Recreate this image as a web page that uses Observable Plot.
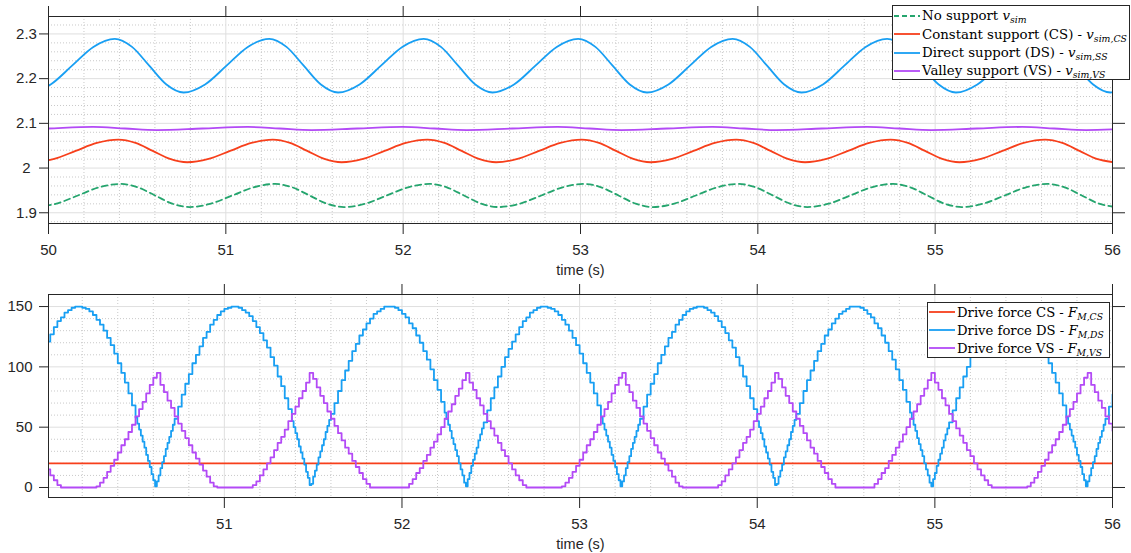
<!DOCTYPE html>
<html>
<head>
<meta charset="utf-8">
<script src="https://cdn.jsdelivr.net/npm/d3@7"></script>
<script src="https://cdn.jsdelivr.net/npm/@observablehq/plot@0.6"></script>
<style>
  html, body { margin: 0; padding: 0; background: #fff; }
  #wrap { position: relative; width: 1131px; height: 553px; overflow: hidden; }
  #wrap svg { display: block; }
  .lg { position: absolute; box-sizing: border-box; border: 1px solid #262626; background: #fff;
        font-family: 'DejaVu Serif', 'Liberation Serif', serif; color: #000; }
  .lg .row { position: absolute; left: 0; white-space: nowrap; display: flex; align-items: center; }
  .lg .row svg { display: inline-block; flex: none; }
  .lg sub { font-size: 0.7em; vertical-align: -0.3em; line-height: 0; }
</style>
</head>
<body>
<div id="wrap">
  <div id="topPanel"></div>
  <div id="bottomPanel"></div>
</div>
<script>
// ---------------- DATA ----------------
// Top panel: simulated speed (values at troughs / quarter points / peaks)
const noSupportT = [49.924,50.045,50.166,50.286,50.407,50.504,50.601,50.698,
  50.795,50.916,51.037,51.157,51.278,51.375,51.472,51.569,
  51.666,51.787,51.908,52.028,52.149,52.246,52.343,52.440,
  52.537,52.658,52.779,52.899,53.020,53.117,53.214,53.311,
  53.408,53.529,53.650,53.770,53.891,53.988,54.085,54.182,
  54.279,54.400,54.521,54.641,54.762,54.859,54.956,55.053,
  55.150,55.271,55.392,55.512,55.633,55.730,55.827,55.924,56.021];
const noSupportV = [1.9128,1.9204,1.9387,1.9569,1.9645,1.9569,1.9387,1.9204,
  1.9128,1.9204,1.9387,1.9569,1.9645,1.9569,1.9387,1.9204,
  1.9128,1.9204,1.9387,1.9569,1.9645,1.9569,1.9387,1.9204,
  1.9128,1.9204,1.9387,1.9569,1.9645,1.9569,1.9387,1.9204,
  1.9128,1.9204,1.9387,1.9569,1.9645,1.9569,1.9387,1.9204,
  1.9128,1.9204,1.9387,1.9569,1.9645,1.9569,1.9387,1.9204,
  1.9128,1.9204,1.9387,1.9569,1.9645,1.9569,1.9387,1.9204,1.9128];

const constT = [49.911,50.032,50.153,50.273,50.394,50.491,50.588,50.685,
  50.782,50.903,51.024,51.144,51.265,51.362,51.459,51.556,
  51.653,51.774,51.895,52.015,52.136,52.233,52.330,52.427,
  52.524,52.645,52.766,52.886,53.007,53.104,53.201,53.298,
  53.395,53.516,53.637,53.757,53.878,53.975,54.072,54.169,
  54.266,54.387,54.508,54.628,54.749,54.846,54.943,55.040,
  55.137,55.258,55.379,55.499,55.620,55.717,55.814,55.911,56.008];
const constV = [2.013,2.0204,2.0383,2.0561,2.0635,2.0561,2.0383,2.0204,
  2.013,2.0204,2.0383,2.0561,2.0635,2.0561,2.0383,2.0204,
  2.013,2.0204,2.0383,2.0561,2.0635,2.0561,2.0383,2.0204,
  2.013,2.0204,2.0383,2.0561,2.0635,2.0561,2.0383,2.0204,
  2.013,2.0204,2.0383,2.0561,2.0635,2.0561,2.0383,2.0204,
  2.013,2.0204,2.0383,2.0561,2.0635,2.0561,2.0383,2.0204,
  2.013,2.0204,2.0383,2.0561,2.0635,2.0561,2.0383,2.0204,2.013];

const directT = [49.891,50.012,50.133,50.253,50.374,50.471,50.568,50.665,
  50.762,50.883,51.004,51.124,51.245,51.342,51.439,51.536,
  51.633,51.754,51.875,51.995,52.116,52.213,52.310,52.407,
  52.504,52.625,52.746,52.866,52.987,53.084,53.181,53.278,
  53.375,53.496,53.617,53.737,53.858,53.955,54.052,54.149,
  54.246,54.367,54.488,54.608,54.729,54.826,54.923,55.020,
  55.117,55.238,55.359,55.479,55.600,55.697,55.794,55.891,55.988,56.109];
const directV = [2.169,2.187,2.229,2.271,2.289,2.271,2.229,2.187,
  2.169,2.187,2.229,2.271,2.289,2.271,2.229,2.187,
  2.169,2.187,2.229,2.271,2.289,2.271,2.229,2.187,
  2.169,2.187,2.229,2.271,2.289,2.271,2.229,2.187,
  2.169,2.187,2.229,2.271,2.289,2.271,2.229,2.187,
  2.169,2.187,2.229,2.271,2.289,2.271,2.229,2.187,
  2.169,2.187,2.229,2.271,2.289,2.271,2.229,2.187,2.169,2.187];

const valleyT = [49.738,49.995,50.251,50.431,
  50.611,50.868,51.124,51.304,
  51.484,51.741,51.997,52.177,
  52.358,52.615,52.871,53.051,
  53.231,53.488,53.744,53.924,
  54.104,54.361,54.617,54.797,
  54.978,55.235,55.491,55.671,
  55.851,56.108];
const valleyV = [2.085,2.0885,2.092,2.0885,
  2.085,2.0885,2.092,2.0885,
  2.085,2.0885,2.092,2.0885,
  2.085,2.0885,2.092,2.0885,
  2.085,2.0885,2.092,2.0885,
  2.085,2.0885,2.092,2.0885,
  2.085,2.0885,2.092,2.0885,
  2.085,2.0885];

// Bottom panel: drive force DS, held values on a 0.01 s grid from t = 50.00 s (601 samples)
const forceDST0 = 50, forceDSDt = 0.01;
const forceDS = [
  121,121,127,127,133,133,138,138,141,141,145,145,147,147,149,149,150,150,150,150,
  149,149,148,148,146,146,143,143,139,139,135,135,130,130,124,124,118,118,111,111,
  103,103,95,95,87,87,78,78,68,68,
  58,
  53,48,43,38,33,27,22,17,11,6,1,5,10,16,21,26,32,37,42,47,52,
  57,57,67,67,77,77,86,86,94,94,103,103,110,110,117,117,124,124,129,129,
  135,135,139,139,143,143,146,146,148,148,149,149,150,150,150,150,149,149,147,147,
  145,145,142,142,138,138,133,133,128,128,122,122,116,116,108,108,101,101,92,92,
  84,84,74,74,65,65,
  55,50,45,40,34,29,24,19,13,8,2,3,9,14,19,25,30,35,40,46,51,
  56,
  61,61,70,70,80,80,89,89,97,97,105,105,113,113,119,119,126,126,131,131,
  136,136,140,140,144,144,146,146,148,148,150,150,150,150,150,150,149,149,147,147,
  144,144,141,141,136,136,132,132,126,126,120,120,113,113,106,106,98,98,89,89,
  81,81,71,71,
  62,
  57,52,47,41,36,31,26,20,15,10,4,1,7,12,18,23,28,33,39,44,49,
  54,54,64,64,74,74,83,83,92,92,100,100,108,108,115,115,
  121,121,127,127,133,133,138,138,141,141,145,145,147,147,149,149,150,150,150,150,
  149,149,148,148,146,146,143,143,139,139,135,135,130,130,124,124,118,118,111,111,
  103,103,95,95,87,87,78,78,68,68,
  58,
  53,48,43,38,33,27,22,17,11,6,1,5,10,16,21,26,32,37,42,47,52,
  57,57,67,67,77,77,86,86,94,94,103,103,110,110,117,117,124,124,129,129,
  135,135,139,139,143,143,146,146,148,148,149,149,150,150,150,150,149,149,147,147,
  145,145,142,142,138,138,133,133,128,128,122,122,116,116,108,108,101,101,92,92,
  84,84,74,74,65,65,
  55,50,45,40,34,29,24,19,13,8,2,3,9,14,19,25,30,35,40,46,51,
  56,
  61,61,70,70,80,80,89,89,97,97,105,105,113,113,119,119,126,126,131,131,
  136,136,140,140,144,144,146,146,148,148,150,150,150,150,150,150,149,149,147,147,
  144,144,141,141,136,136,132,132,126,126,120,120,113,113,106,106,98,98,89,89,
  81,81,71,71,
  62,
  57,52,47,41,36,31,26,20,15,10,4,1,7,12,18,23,28,33,39,44,49,
  54,54,64,64,74,74,83,83,92,92,100,100,108,108,115,115,
  121,121,127,127,133,133,138,138,141,141,145,145,147,147,149,149,150,150,150,150,
  149,149,148,148,146,146,143,143,139,139,135,135,130,130,124,124,118,118,111,111,
  103,103,95,95,87,87,78,78,68,68,
  58,
  53,48,43,38,33,27,22,17,11,6,1,5,10,16,21,26,32,37,42,47,52,
  57,57,67,67,77];
// Drive force VS, held values on a 0.02 s grid from t = 50.00 s (301 samples)
const forceVST0 = 50, forceVSDt = 0.02;
const forceVS = [
  15,10,6,2,0,0,0,0,0,0,0,0,0,0,1,4,8,13,18,23,
  29,35,40,46,52,59,65,71,78,85,91,95,85,79,72,66,59,53,47,41,
  35,29,24,19,14,9,4,1,0,0,0,0,0,0,0,0,0,0,2,5,
  10,15,20,25,31,37,42,48,55,61,67,74,80,87,95,90,83,76,70,63,
  57,51,45,39,33,28,22,17,12,7,3,0,0,0,0,0,0,0,0,0,
  0,0,3,7,12,16,22,27,33,38,44,50,57,63,69,76,82,89,95,87,
  81,74,68,61,55,49,43,37,31,26,20,
  15,10,6,2,0,0,0,0,0,0,0,0,0,0,1,4,8,13,18,23,
  29,35,40,46,52,59,65,71,78,85,91,95,85,79,72,66,59,53,47,41,
  35,29,24,19,14,9,4,1,0,0,0,0,0,0,0,0,0,0,2,5,
  10,15,20,25,31,37,42,48,55,61,67,74,80,87,95,90,83,76,70,63,
  57,51,45,39,33,28,22,17,12,7,3,0,0,0,0,0,0,0,0,0,
  0,0,3,7,12,16,22,27,33,38,44,50,57,63,69,76,82,89,95,87,
  81,74,68,61,55,49,43,37,31,26,20,
  15,10,6,2,0,0,0,0,0,0,0,0,0,0,1,4,8,13,18,23,
  29,35,40,46,52,59,65,71,78,85,91,95,85,79,72,66,59,53,47];
const forceCST = [50, 56];
const forceCS = [20, 20];

// Tick labels
const topXTicks = [50, 51, 52, 53, 54, 55, 56];
const topYTicks = [1.9, 2, 2.1, 2.2, 2.3];
const botXTicks = [51, 52, 53, 54, 55, 56];
const botYTicks = [0, 50, 100, 150];

// ---------------- STYLE ----------------
const C = { green: "#25a56e", red: "#f73f1b", blue: "#189ff3", purple: "#b34af6" };
const axisColor = "#262626";
const gridMajor = "#dfdfdf";
const gridMinor = "#c9c9c9";
const font = "'Liberation Sans', Arial, Helvetica, sans-serif";

const rows = (T, V) => T.map((t, i) => ({t, v: V[i]}));
const gridRows = (t0, dt, V) => V.map((v, i) => ({t: t0 + i * dt, v}));
const near = (a, b) => Math.abs(a - b) < 1e-9;
const minorTicks = (lo, hi, step, majors) =>
  d3.range(Math.ceil(lo / step - 1e-9), Math.floor(hi / step + 1e-9) + 1)
    .map(k => +(k * step).toFixed(4))
    .filter(v => !majors.some(m => near(m, v)));

function gridMarks(xd, yd, xMaj, yMaj, xStep, yStep) {
  return [
    Plot.ruleX(minorTicks(xd[0], xd[1], xStep, xMaj), {stroke: gridMinor, strokeDasharray: "1,2", strokeWidth: 1}),
    Plot.ruleY(minorTicks(yd[0], yd[1], yStep, yMaj), {stroke: gridMinor, strokeDasharray: "1,2", strokeWidth: 1}),
    Plot.ruleX(xMaj.filter(v => v > xd[0] && v < xd[1]), {stroke: gridMajor, strokeWidth: 1}),
    Plot.ruleY(yMaj, {stroke: gridMajor, strokeWidth: 1})
  ];
}
function axisMarks(xTicks, yTicks, yFmt, yLeftOpts) {
  return [
    Plot.frame({stroke: axisColor, strokeWidth: 1}),
    Plot.axisX({anchor: "bottom", ticks: xTicks, tickSize: 11, tickPadding: 10, tickFormat: d => String(d), label: null, stroke: axisColor, fontSize: 15}),
    Plot.axisX({anchor: "top", ticks: xTicks, tickSize: 11, tickFormat: () => "", label: null, stroke: axisColor}),
    Plot.axisY({anchor: "left", ticks: yTicks, tickSize: 9, tickFormat: yFmt, label: null, stroke: axisColor, fontSize: 15, ...yLeftOpts}),
    Plot.axisY({anchor: "right", ticks: yTicks, tickSize: 12, tickFormat: () => "", label: null, stroke: axisColor})
  ];
}

// ---------------- TOP PANEL ----------------
const topXD = [50, 56], topYD = [1.876, 2.339];
const topPlot = Plot.plot({
  width: 1131, height: 277,
  marginTop: 16, marginBottom: 54, marginLeft: 48, marginRight: 19,
  style: {fontFamily: font, fontSize: "15px", color: axisColor, background: "transparent", overflow: "visible"},
  x: {domain: topXD, axis: null},
  y: {domain: topYD, axis: null},
  marks: [
    ...gridMarks(topXD, topYD, topXTicks, topYTicks, 0.2, 0.02),
    Plot.line(rows(noSupportT, noSupportV), {x: "t", y: "v", stroke: C.green, strokeWidth: 1.8, strokeDasharray: "6,4", curve: "monotone-x", clip: true}),
    Plot.line(rows(constT, constV), {x: "t", y: "v", stroke: C.red, strokeWidth: 1.8, curve: "monotone-x", clip: true}),
    Plot.line(rows(directT, directV), {x: "t", y: "v", stroke: C.blue, strokeWidth: 1.8, curve: "monotone-x", clip: true}),
    Plot.line(rows(valleyT, valleyV), {x: "t", y: "v", stroke: C.purple, strokeWidth: 1.8, curve: "monotone-x", clip: true}),
    ...axisMarks(topXTicks, topYTicks, d => String(+d.toFixed(1)), {textAnchor: "middle", tickPadding: 13}),
    Plot.text(["time (s)"], {text: d => d, frameAnchor: "bottom", dy: 47, lineAnchor: "middle", fill: axisColor, fontSize: 14.5})
  ]
});
document.getElementById("topPanel").appendChild(topPlot);

// ---------------- BOTTOM PANEL ----------------
const botXD = [50.01, 56], botYD = [-8.3, 160];
const botPlot = Plot.plot({
  width: 1131, height: 276,
  marginTop: 17, marginBottom: 56, marginLeft: 48, marginRight: 19,
  style: {fontFamily: font, fontSize: "15px", color: axisColor, background: "transparent", overflow: "visible"},
  x: {domain: botXD, axis: null},
  y: {domain: botYD, axis: null},
  marks: [
    ...gridMarks(botXD, botYD, botXTicks, botYTicks, 0.2, 10),
    Plot.line(rows(forceCST, forceCS), {x: "t", y: "v", stroke: C.red, strokeWidth: 1.8, clip: true}),
    Plot.line(gridRows(forceDST0, forceDSDt, forceDS), {x: "t", y: "v", stroke: C.blue, strokeWidth: 1.8, curve: "step-after", clip: true}),
    Plot.line(gridRows(forceVST0, forceVSDt, forceVS), {x: "t", y: "v", stroke: C.purple, strokeWidth: 1.8, curve: "step-after", clip: true}),
    ...axisMarks(botXTicks, botYTicks, d => String(d), {tickPadding: 7}),
    Plot.text(["time (s)"], {text: d => d, frameAnchor: "bottom", dy: 47, lineAnchor: "middle", fill: axisColor, fontSize: 14.5})
  ]
});
document.getElementById("bottomPanel").appendChild(botPlot);

// ---------------- LEGENDS ----------------
function legend({left, top, width, height, fontSize, rowsDef, lineLen, rowH, firstY, textWidth}) {
  const box = document.createElement("div");
  box.className = "lg";
  Object.assign(box.style, {left: left + "px", top: top + "px", width: width + "px", height: height + "px", fontSize: fontSize + "px"});
  const spans = [];
  rowsDef.forEach((r, i) => {
    const row = document.createElement("div");
    row.className = "row";
    row.style.top = (firstY + i * rowH - rowH / 2) + "px";
    row.style.height = rowH + "px";
    const dash = r.dash ? `stroke-dasharray="5,3"` : "";
    row.innerHTML = `<svg width="${lineLen + 2}" height="10"><line x1="1" y1="5" x2="${lineLen}" y2="5" stroke="${r.color}" stroke-width="1.8" ${dash}/></svg><span>${r.html}</span>`;
    box.appendChild(row);
    spans.push(row.querySelector("span"));
  });
  document.getElementById("wrap").appendChild(box);
  // fit the text width to the width measured on the reference
  const w = Math.max(...spans.map(s => s.getBoundingClientRect().width));
  if (w > 0) box.style.fontSize = (fontSize * textWidth / w) + "px";
}
legend({
  left: 892, top: 5, width: 238, height: 75, fontSize: 14, lineLen: 27, rowH: 18.3, firstY: 10, textWidth: 205,
  rowsDef: [
    {color: C.green, dash: true, html: "No support <i>v</i><sub><i>sim</i></sub>"},
    {color: C.red, html: "Constant support (CS) - <i>v</i><sub><i>sim,CS</i></sub>"},
    {color: C.blue, html: "Direct support (DS) - <i>v</i><sub><i>sim,SS</i></sub>"},
    {color: C.purple, html: "Valley support (VS) - <i>v</i><sub><i>sim,VS</i></sub>"}
  ]
});
legend({
  left: 927, top: 302, width: 183, height: 56, fontSize: 14, lineLen: 27, rowH: 18, firstY: 9, textWidth: 147,
  rowsDef: [
    {color: C.red, html: "Drive force CS - <i>F</i><sub><i>M,CS</i></sub>"},
    {color: C.blue, html: "Drive force DS - <i>F</i><sub><i>M,DS</i></sub>"},
    {color: C.purple, html: "Drive force VS - <i>F</i><sub><i>M,VS</i></sub>"}
  ]
});
</script>
</body>
</html>
